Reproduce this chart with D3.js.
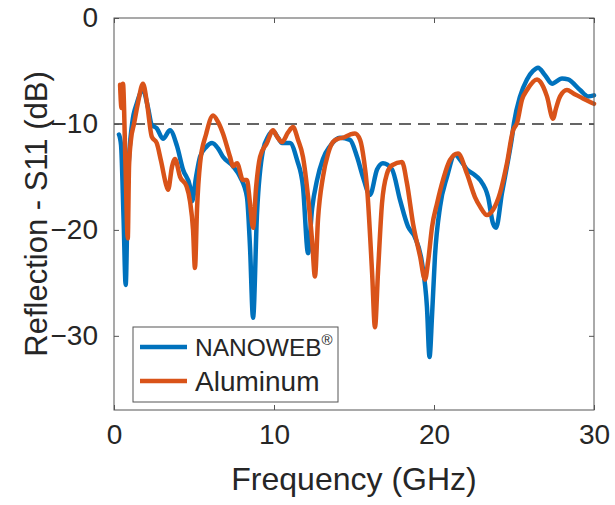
<!DOCTYPE html>
<html>
<head>
<meta charset="utf-8">
<script src="https://cdn.jsdelivr.net/npm/d3@7"></script>
<style>
  html, body { margin: 0; padding: 0; background: #fff; }
  #viz text { font-family: "Liberation Sans", Arial, Helvetica, sans-serif; fill: #262626; }
</style>
</head>
<body>
<div id="viz"></div>
<script>
// ===== DATA =====
const freqNanoweb = [0.31, 0.44, 0.6, 0.73, 0.88, 1.13, 1.44, 1.81, 2.13, 2.36, 2.67, 3.06, 3.5, 3.94, 4.31, 4.75, 4.88, 5.13, 5.38, 5.75, 6.13, 6.5, 6.81, 7.44, 7.88, 8.31, 8.5, 8.69, 8.94, 9.31, 9.63, 9.94, 10.25, 10.5, 11, 11.44, 11.81, 12.13, 12.38, 12.69, 13.06, 13.5, 14.13, 14.75, 15.19, 15.56, 16, 16.44, 16.81, 17.38, 17.88, 18.38, 18.81, 19.25, 19.56, 19.72, 19.88, 20.06, 20.38, 20.81, 21.31, 21.69, 22.06, 22.44, 22.88, 23.38, 23.69, 23.88, 24.25, 24.56, 24.88, 25.0, 25.38, 25.81, 26.19, 26.5, 26.94, 27.38, 28, 28.38, 29.13, 29.63, 30];
const s11Nanoweb = [-11.0, -12.0, -19.0, -25.2, -15.0, -10.0, -8.0, -6.8, -8.5, -10.1, -10.4, -11.4, -10.6, -12.1, -14.3, -15.9, -17.3, -15.0, -13.1, -12.2, -11.8, -12.3, -13.1, -14.0, -15.0, -16.9, -21.6, -28.3, -18.4, -12.5, -11.2, -10.7, -11.3, -11.8, -11.8, -13.4, -15.9, -22.2, -18.0, -15.3, -13.3, -12.1, -11.3, -11.5, -13.1, -15.0, -16.7, -14.3, -13.7, -14.3, -17.2, -19.7, -20.7, -23.1, -27.3, -32.0, -28.0, -22.5, -17.8, -15.0, -12.9, -13.5, -14.3, -14.7, -15.3, -16.9, -19.4, -19.8, -16.5, -14.0, -11.2, -9.9, -7.4, -5.8, -5.0, -4.7, -5.4, -6.2, -5.7, -5.8, -6.8, -7.4, -7.3];

const freqAluminum = [0.38, 0.47, 0.56, 0.72, 0.86, 0.94, 1.06, 1.25, 1.5, 1.81, 2.06, 2.36, 2.67, 2.94, 3.29, 3.38, 3.63, 3.81, 4.13, 4.54, 4.75, 4.94, 5.06, 5.19, 5.38, 5.75, 6.19, 6.5, 6.81, 7.25, 7.44, 7.69, 8.06, 8.31, 8.5, 8.69, 8.88, 9.13, 9.56, 9.94, 10.19, 10.5, 10.88, 11.19, 11.5, 11.81, 12.13, 12.38, 12.56, 12.75, 13.06, 13.38, 13.69, 14, 14.31, 14.75, 15.06, 15.38, 15.63, 15.81, 16.13, 16.31, 16.5, 16.75, 17.06, 17.38, 18, 18.31, 18.69, 19.13, 19.44, 19.63, 19.88, 20.19, 20.56, 21, 21.5, 22.06, 22.56, 22.88, 23.31, 23.69, 24.13, 24.56, 24.94, 25.19, 25.5, 25.81, 26.44, 26.63, 27.06, 27.44, 27.63, 27.88, 28.31, 28.69, 29.31, 30];
const s11Aluminum = [-6.3, -8.5, -6.2, -14.0, -20.8, -14.0, -11.5, -10.0, -8.0, -6.2, -8.0, -11.2, -11.8, -13.5, -15.9, -16.2, -14.0, -13.3, -15.0, -15.9, -17.3, -20.0, -23.6, -18.0, -13.7, -11.0, -9.2, -9.8, -10.9, -13.1, -14.0, -13.7, -15.3, -15.3, -17.5, -19.8, -16.0, -13.1, -11.8, -10.6, -11.2, -11.7, -10.8, -10.3, -11.5, -13.1, -16.9, -21.0, -24.4, -19.0, -15.0, -12.8, -11.7, -11.4, -11.3, -11.0, -10.9, -11.5, -13.5, -15.9, -24.0, -29.2, -24.0, -17.5, -14.7, -13.9, -13.6, -15.6, -19.4, -22.5, -24.7, -23.0, -19.7, -17.5, -15.3, -13.4, -12.8, -14.7, -16.9, -17.8, -18.6, -18.1, -16.5, -13.7, -10.6, -9.9, -7.7, -6.8, -5.8, -6.0, -7.4, -9.5, -8.5, -7.4, -6.8, -7.1, -7.6, -8.1];

const seriesNames = ['NANOWEB', 'Aluminum'];
const xTicks = [0, 10, 20, 30];
const yTicks = [0, -10, -20, -30];
const threshold = -10;

function drawChart() {
    /* [1] ===== ACCESS DATA ===== */
    const nanoweb = freqNanoweb.map((f, i) => ({ f, s: s11Nanoweb[i] }));
    const aluminum = freqAluminum.map((f, i) => ({ f, s: s11Aluminum[i] }));
    const xAccessor = d => d.f;
    const yAccessor = d => d.s;

    /* [2] ===== CHART DIMENSION ===== */
    const dimensions = {
        width: 615,
        height: 505,
        margin: { top: 18, right: 21, bottom: 95, left: 114 },
    };
    dimensions.boundedWidth = dimensions.width - dimensions.margin.left - dimensions.margin.right;
    dimensions.boundedHeight = dimensions.height - dimensions.margin.top - dimensions.margin.bottom;

    /* [3] ===== DRAW CANVAS ===== */
    const svg = d3.select('#viz')
        .append('svg')
            .attr('width', dimensions.width)
            .attr('height', dimensions.height);

    const viz = svg.append('g')
        .attr('transform', `translate(${dimensions.margin.left}, ${dimensions.margin.top})`);

    /* [4] ===== CREATE SCALE ===== */
    const xScale = d3.scaleLinear()
        .domain([0, 30])
        .range([0, dimensions.boundedWidth]);

    const yScale = d3.scaleLinear()
        .domain([-37, 0])
        .range([dimensions.boundedHeight, 0]);

    /* [5] ===== DRAW DATA ===== */
    viz.append('line')
        .attr('x1', 0)
        .attr('x2', dimensions.boundedWidth)
        .attr('y1', yScale(threshold))
        .attr('y2', yScale(threshold))
        .attr('stroke', '#333')
        .attr('stroke-width', 1.6)
        .attr('stroke-dasharray', '12,7');

    const lineGenerator = d3.line()
        .x(d => xScale(xAccessor(d)))
        .y(d => yScale(yAccessor(d)))
        .curve(d3.curveMonotoneX);

    const colors = ['#0072BD', '#D95319'];

    [nanoweb, aluminum].forEach((series, i) => {
        viz.append('path')
            .attr('d', lineGenerator(series))
            .attr('fill', 'none')
            .attr('stroke', colors[i])
            .attr('stroke-width', 4.5)
            .attr('stroke-linejoin', 'round')
            .attr('stroke-linecap', 'round');
    });

    /* [6] ===== DRAW PERIPHERALS ===== */
    const fmt = d3.format('');
    const tickSize = 5;

    const xAxis = viz.append('g')
        .attr('transform', `translate(0, ${dimensions.boundedHeight})`)
        .call(d3.axisBottom(xScale).tickValues(xTicks).tickSizeInner(-tickSize).tickSizeOuter(0).tickPadding(14).tickFormat(fmt));
    const xTop = viz.append('g')
        .call(d3.axisTop(xScale).tickValues(xTicks).tickSizeInner(-tickSize).tickSizeOuter(0).tickFormat(''));
    const yAxis = viz.append('g')
        .call(d3.axisLeft(yScale).tickValues(yTicks).tickSizeInner(-tickSize).tickSizeOuter(0).tickPadding(16).tickFormat(d => d3.format('')(d).replace('-', '−')));
    const yRight = viz.append('g')
        .attr('transform', `translate(${dimensions.boundedWidth}, 0)`)
        .call(d3.axisRight(yScale).tickValues(yTicks).tickSizeInner(-tickSize).tickSizeOuter(0).tickFormat(''));

    [xAxis, xTop, yAxis, yRight].forEach(ax => {
        ax.select('.domain').remove();
        ax.selectAll('line').attr('stroke', '#555');
        ax.selectAll('text').attr('font-size', 28);
    });
    xAxis.selectAll('text').attr('dy', '0.71em');

    viz.append('rect')
        .attr('width', dimensions.boundedWidth)
        .attr('height', dimensions.boundedHeight)
        .attr('fill', 'none')
        .attr('stroke', '#555')
        .attr('stroke-width', 1);

    viz.append('text')
        .attr('x', dimensions.boundedWidth / 2)
        .attr('y', dimensions.boundedHeight + 80)
        .attr('text-anchor', 'middle')
        .attr('font-size', 32)
        .text('Frequency (GHz)');

    viz.append('text')
        .attr('transform', `translate(${47 - dimensions.margin.left}, ${dimensions.boundedHeight / 2}) rotate(-90)`)
        .attr('text-anchor', 'middle')
        .attr('font-size', 31)
        .text('Reflection - S11 (dB)');

    // legend
    const legend = viz.append('g')
        .attr('transform', `translate(${133 - dimensions.margin.left}, ${327 - dimensions.margin.top})`);
    legend.append('rect')
        .attr('width', 205)
        .attr('height', 75)
        .attr('fill', '#fff')
        .attr('stroke', '#555')
        .attr('stroke-width', 1);

    const rows = [20, 54];
    seriesNames.forEach((name, i) => {
        legend.append('line')
            .attr('x1', 7).attr('x2', 54)
            .attr('y1', rows[i]).attr('y2', rows[i])
            .attr('stroke', colors[i])
            .attr('stroke-width', 4.5);
        const t = legend.append('text')
            .attr('x', 62)
            .attr('y', rows[i])
            .attr('dy', '0.36em')
            .attr('font-size', i === 0 ? 24.5 : 28)
            .text(name);
        if (i === 0) {
            t.append('tspan')
                .attr('font-size', 15)
                .attr('dy', '-0.7em')
                .text('®');
        }
    });
}

drawChart();
</script>
</body>
</html>
